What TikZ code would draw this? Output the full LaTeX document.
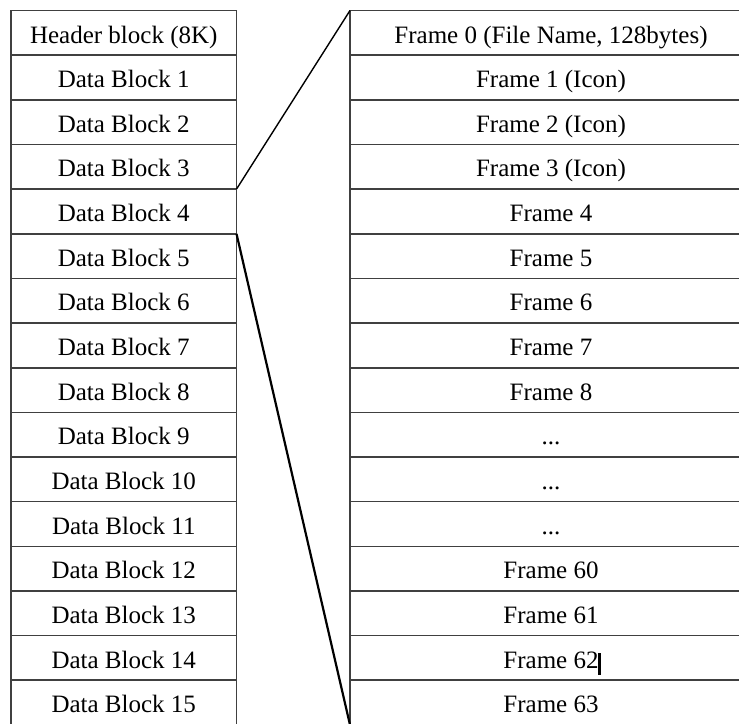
\documentclass[tikz,border=0pt]{standalone}
\usepackage{fontspec}
\setmainfont{Liberation Serif}
\newcommand\mydots{...}
\begin{document}
\begin{tikzpicture}[x=1pt,y=-1pt,
  cell/.style={draw=black!75, line width=1.6pt, rectangle, inner sep=0pt, outer sep=0pt,
    minimum height=44.65pt, text height=20.4pt, text depth=0pt,
    font=\fontsize{25}{30}\selectfont},
  lcell/.style={cell, minimum width=225.5pt},
  rcell/.style={cell, minimum width=402pt},
  link/.style={draw=black, line width=1.4pt}]
\useasboundingbox (0,0) rectangle (739,723);
\foreach \i/\t in {0/Header block (8K),1/Data Block 1,2/Data Block 2,3/Data Block 3,
  4/Data Block 4,5/Data Block 5,6/Data Block 6,7/Data Block 7,8/Data Block 8,
  9/Data Block 9,10/Data Block 10,11/Data Block 11,12/Data Block 12,
  13/Data Block 13,14/Data Block 14,15/Data Block 15}
  \node[lcell] (l\i) at (123.75, 10.5+22.325+44.65*\i) {\t};
\foreach \i/\t in {0/{Frame 0 (File Name, 128bytes)},1/Frame 1 (Icon),2/Frame 2 (Icon),
  3/Frame 3 (Icon),4/Frame 4,5/Frame 5,6/Frame 6,7/Frame 7,8/Frame 8,
  9/\mydots,10/\mydots,11/\mydots,12/Frame 60,13/Frame 61,14/Frame 62,15/Frame 63}
  \node[rcell] (r\i) at (551, 10.5+22.325+44.65*\i) {\t};
\fill[black] (597.5,653) rectangle (600.5,675);
\draw[link] (l3.south east) -- (r0.north west);
\draw[link, line width=2.2pt] (l4.south east) -- (r15.south west);
\end{tikzpicture}
\end{document}
